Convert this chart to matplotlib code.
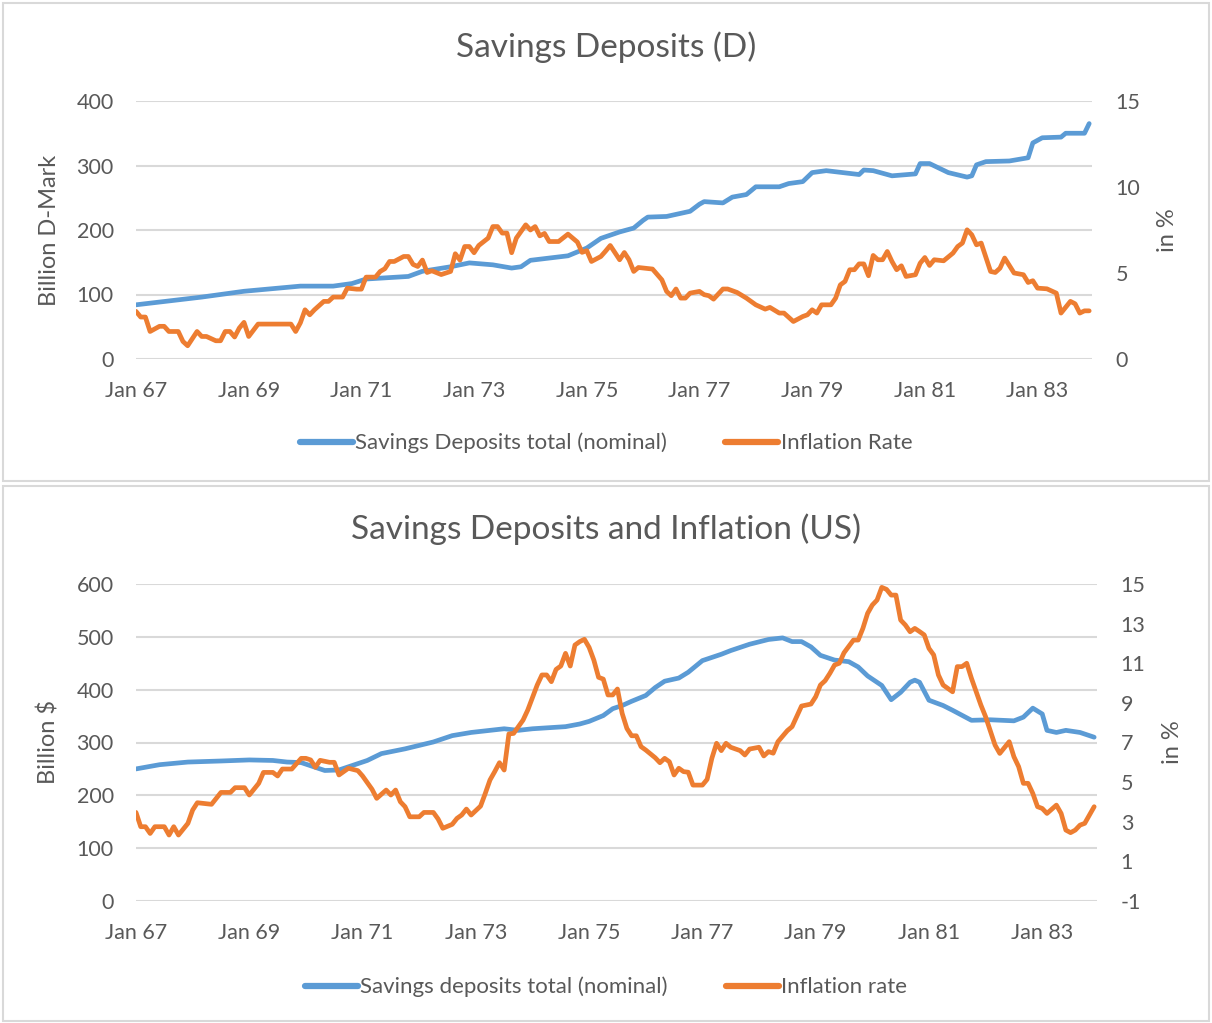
import matplotlib.pyplot as plt
from matplotlib.patches import Rectangle
from matplotlib.lines import Line2D

plt.rcParams['font.family'] = ['Lato', 'DejaVu Sans']
plt.rcParams['axes.unicode_minus'] = False

# months since Jan 1967
de_dep_m = [0, 7, 14, 23, 35, 42, 46, 49, 58, 61, 67, 71, 76, 80, 82, 84, 92, 96, 99, 103,
            106, 108, 109, 113, 118, 120, 121, 125, 127, 130, 132, 137, 139, 142, 144, 147,
            154, 155, 157, 161, 166, 167, 169, 171, 173, 177, 178, 179, 181, 186, 190, 191,
            193, 197, 198, 202, 203]
de_dep = [84, 90, 96, 105, 113, 113, 117, 124, 128, 136, 143, 149, 146, 141, 143, 153, 160, 172, 187, 197,
          203, 215, 220, 221, 229, 240, 244, 242, 251, 255, 267, 267, 272, 275, 289, 292,
          286, 293, 292, 284, 287, 303, 303, 296, 289, 282, 284, 301, 306, 307, 312, 335,
          343, 344, 350, 350, 365]

de_inf_m = [0, 1, 2, 3, 5, 6, 7, 9, 10, 11, 13, 14, 15, 17, 18, 19, 20, 21, 22, 23, 24, 26, 33,
            34, 35, 36, 37, 38, 40, 41, 42, 44, 45, 47, 48, 49, 51, 52, 53, 54, 55, 57, 58, 59,
            60, 61, 62, 63, 65, 67, 68, 69, 70, 71, 72, 73, 75, 76, 77, 78, 79, 80, 81, 83, 84,
            85, 86, 87, 88, 90, 92, 94, 95, 96, 97, 99, 100, 101, 102, 103, 104, 105, 106, 107,
            110, 112, 113, 114, 115, 116, 117, 118, 120, 121, 122, 123, 125, 126, 128, 130, 132,
            134, 135, 137, 138, 140, 142, 143, 144, 145, 146, 148, 149, 150, 151, 152, 153, 154,
            155, 156, 157, 158, 159, 160, 161, 162, 163, 164, 166, 167, 168, 169, 170, 172, 174,
            175, 176, 177, 178, 179, 180, 182, 183, 184, 185, 187, 189, 190, 191, 192, 194, 196,
            197, 199, 200, 201, 202, 203]
de_inf = [2.77, 2.44, 2.44, 1.6, 1.9, 1.9, 1.6, 1.6, 1.02, 0.77, 1.6, 1.31, 1.31, 1.06, 1.06, 1.6, 1.6, 1.28, 1.8, 2.13, 1.31, 2.03, 2.03,
          1.6, 2.1, 2.86, 2.57, 2.86, 3.35, 3.35, 3.6, 3.6, 4.12, 4.06, 4.06, 4.76, 4.76, 5.09, 5.25, 5.67, 5.67, 5.96, 5.96, 5.5,
          5.38, 5.75, 5.03, 5.13, 4.91, 5.09, 6.12, 5.75, 6.54, 6.54, 6.18, 6.6, 7.03, 7.7, 7.7, 7.32, 7.32, 6.18, 7.03, 7.8, 7.5,
          7.7, 7.16, 7.3, 6.83, 6.83, 7.26, 6.8, 6.2, 6.3, 5.67, 5.96, 6.27, 6.6, 6.18, 5.77, 6.19, 5.77, 5.09, 5.32,
          5.23, 4.6, 3.93, 3.68, 4.07, 3.54, 3.54, 3.83, 3.93, 3.74, 3.68, 3.48, 4.07, 4.07, 3.87, 3.54, 3.15,
          2.9, 3.0, 2.67, 2.67, 2.18, 2.47, 2.57, 2.86, 2.67, 3.15, 3.15, 3.54, 4.31, 4.51, 5.19, 5.19, 5.53,
          5.53, 4.84, 6.02, 5.77, 5.77, 6.25, 5.67, 5.19, 5.42, 4.8, 4.9, 5.57, 5.9, 5.44, 5.77, 5.71, 6.16,
          6.54, 6.74, 7.51, 7.22, 6.64, 6.74, 5.09, 5.03, 5.28, 5.87, 5.0, 4.9, 4.45, 4.55, 4.12, 4.08, 3.83,
          2.67, 3.35, 3.21, 2.67, 2.8, 2.8]

us_dep_m = [0, 5, 11, 18, 24, 29, 32, 35, 38, 40, 43, 46, 49, 52, 57, 63, 67, 71, 75, 78, 81, 84,
            91, 94, 96, 99, 101, 103, 105, 108, 110, 112, 115, 117, 120, 124, 126, 130, 134, 137,
            139, 141, 143, 145, 148, 151, 153, 155, 158, 160, 162, 164, 165, 166, 168, 171, 173,
            177, 181, 186, 188, 190, 192, 193, 195, 197, 200, 203]
us_dep = [250, 258, 263, 265, 267, 266, 263, 262, 253, 247, 248, 257, 266, 279, 288, 301, 313, 319, 323, 326, 323, 326,
          330, 335, 340, 351, 364, 370, 378, 389, 404, 416, 422, 433, 455, 467, 474, 486, 495, 498,
          491, 491, 481, 465, 456, 453, 443, 426, 408, 381, 395, 414, 418, 414, 380, 370, 361,
          342, 343, 341, 348, 365, 354, 323, 319, 323, 319, 310]

us_inf_m = [0, 1, 2, 3, 4, 6, 7, 8, 9, 11, 12, 13, 16, 18, 20, 21, 23, 24, 26, 27, 29, 30, 31, 33,
            35, 36, 37, 38, 39, 41, 42, 43, 45, 47, 48, 50, 51, 53, 54, 55, 56, 57, 58, 60, 61, 63,
            64, 65, 67, 68, 69, 70, 71, 73, 74, 75, 76, 77, 78, 79, 80, 82, 83, 85, 86, 87, 88, 89,
            90, 91, 92, 93, 94, 95, 96, 97, 98, 99, 100, 101, 102, 103, 104, 105, 106, 107, 108,
            110, 111, 112, 113, 114, 115, 116, 117, 118, 120, 121, 122, 123, 124, 125, 126, 128,
            129, 130, 132, 133, 134, 135, 136, 138, 139, 141, 143, 144, 145, 146, 147, 148, 149,
            150, 152, 153, 154, 155, 156, 157, 158, 159, 160, 161, 162, 163, 164, 165, 166, 167,
            168, 169, 170, 171, 173, 174, 175, 176, 177, 178, 179, 180, 182, 183, 185, 186, 187,
            188, 189, 190, 191, 192, 193, 195, 196, 197, 198, 199, 200, 201, 202, 203]
us_inf = [3.47, 2.75, 2.75, 2.41, 2.75, 2.75, 2.33, 2.75, 2.33, 2.92, 3.59, 3.96, 3.88, 4.48, 4.48, 4.72, 4.72, 4.35, 4.94, 5.49, 5.49, 5.31, 5.66, 5.66,
          6.2, 6.2, 6.12, 5.75, 6.1, 6.0, 6.0, 5.36, 5.7, 5.58, 5.31, 4.64, 4.18, 4.6, 4.35, 4.6, 4.01, 3.76, 3.25, 3.25, 3.47, 3.47,
          3.14, 2.67, 2.87, 3.17, 3.34, 3.64, 3.34, 3.79, 4.43, 5.11, 5.53, 5.98, 5.61, 7.43, 7.46, 8.13, 8.64, 9.9, 10.41, 10.41, 10.07, 10.69,
          10.86, 11.5, 10.86, 11.92, 12.09, 12.21, 11.8, 11.16, 10.29, 10.2, 9.4, 9.4, 9.7, 8.47, 7.71, 7.34, 7.34, 6.79, 6.62,
          6.23, 5.98, 6.2, 6.03, 5.36, 5.7, 5.53, 5.5, 4.85, 4.85, 5.14, 6.2, 6.96, 6.59, 6.96, 6.76, 6.59,
          6.37, 6.67, 6.76, 6.32, 6.54, 6.46, 7.04, 7.6, 7.8, 8.84, 8.94, 9.31, 9.9, 10.12, 10.49, 10.91, 11.0,
          11.53, 12.17, 12.17, 12.76, 13.52, 13.94, 14.19, 14.83, 14.73, 14.44, 14.44, 13.18, 12.93, 12.59, 12.76, 12.6, 12.43,
          11.75, 11.42, 10.41, 9.9, 9.56, 10.83, 10.83, 11.0, 10.24, 9.56, 8.89, 8.3, 6.87, 6.45, 7.04, 6.28, 5.78,
          4.94, 4.94, 4.43, 3.76, 3.67, 3.42, 3.84, 3.42, 2.58, 2.45, 2.58, 2.83, 2.92, 3.34, 3.76]

tick_months = [0, 24, 48, 72, 96, 120, 144, 168, 192]
tick_labels = ['Jan 67', 'Jan 69', 'Jan 71', 'Jan 73', 'Jan 75', 'Jan 77', 'Jan 79', 'Jan 81', 'Jan 83']

BLUE = '#5B9BD5'
ORANGE = '#ED7D31'
TXT = '#595959'
GRID = '#D9D9D9'

fig = plt.figure(figsize=(12.12, 10.23), dpi=100)

# chart frames
fig.patches.append(Rectangle((3 / 1212, 1 - 481 / 1023), 1206 / 1212, 478 / 1023,
                             transform=fig.transFigure, fill=False, ec=GRID, lw=1.5))
fig.patches.append(Rectangle((3 / 1212, 1 - 1021 / 1023), 1206 / 1212, 535 / 1023,
                             transform=fig.transFigure, fill=False, ec=GRID, lw=1.5))


def panel(rect, dm, dv, im, iv, ylim, yticks, rlim, rticks, ylabel, title, labels, title_y, leg_y):
    ax = fig.add_axes(rect)
    ax2 = ax.twinx()
    ax.plot(dm, dv, color=BLUE, lw=3.4, solid_joinstyle='round', solid_capstyle='round', zorder=3)
    ax2.plot(im, iv, color=ORANGE, lw=3.4, solid_joinstyle='round', solid_capstyle='round')
    ax.set_xlim(0, 203.6)
    ax.set_ylim(*ylim)
    ax.set_yticks(yticks)
    ax2.set_ylim(*rlim)
    ax2.set_yticks(rticks)
    ax.set_xticks(tick_months)
    ax.set_xticklabels(tick_labels)
    ax.grid(axis='y', color=GRID, lw=1.5)
    ax.set_axisbelow(True)
    for a in (ax, ax2):
        for s in a.spines.values():
            s.set_visible(False)
        a.tick_params(length=0, labelsize=15.5, labelcolor=TXT)
    ax.tick_params(axis='y', pad=16)
    ax.tick_params(axis='x', pad=16)
    ax2.tick_params(axis='y', pad=17)
    ax.set_ylabel(ylabel, fontsize=17, color=TXT, labelpad=12)
    ax2.set_ylabel('in %', fontsize=17, color=TXT, labelpad=12)
    fig.text(0.5, title_y, title, ha='center', va='center', fontsize=24, color=TXT)
    handles = [Line2D([], [], color=BLUE, lw=4.5, solid_capstyle='round'),
               Line2D([], [], color=ORANGE, lw=4.5, solid_capstyle='round')]
    fig.legend(handles, labels, loc='center', bbox_to_anchor=(0.5, leg_y), ncol=2, frameon=False,
               fontsize=16, labelcolor=TXT, handlelength=2.4, handletextpad=0.1, columnspacing=2.6)
    return ax


panel([136 / 1212, 1 - 359 / 1023, 956 / 1212, 258 / 1023],
      de_dep_m, de_dep, de_inf_m, de_inf,
      (0, 400), [0, 100, 200, 300, 400], (0, 15), [0, 5, 10, 15],
      'Billion D-Mark', 'Savings Deposits (D)',
      ['Savings Deposits total (nominal)', 'Inflation Rate'],
      1 - 47 / 1023, 1 - 443 / 1023)

panel([136 / 1212, 1 - 901 / 1023, 961 / 1212, 317 / 1023],
      us_dep_m, us_dep, us_inf_m, us_inf,
      (0, 600), [0, 100, 200, 300, 400, 500, 600], (-1, 15), [-1, 1, 3, 5, 7, 9, 11, 13, 15],
      'Billion $', 'Savings Deposits and Inflation (US)',
      ['Savings deposits total (nominal)', 'Inflation rate'],
      1 - 529 / 1023, 1 - 987 / 1023)

fig.savefig('out.png', dpi=100)
